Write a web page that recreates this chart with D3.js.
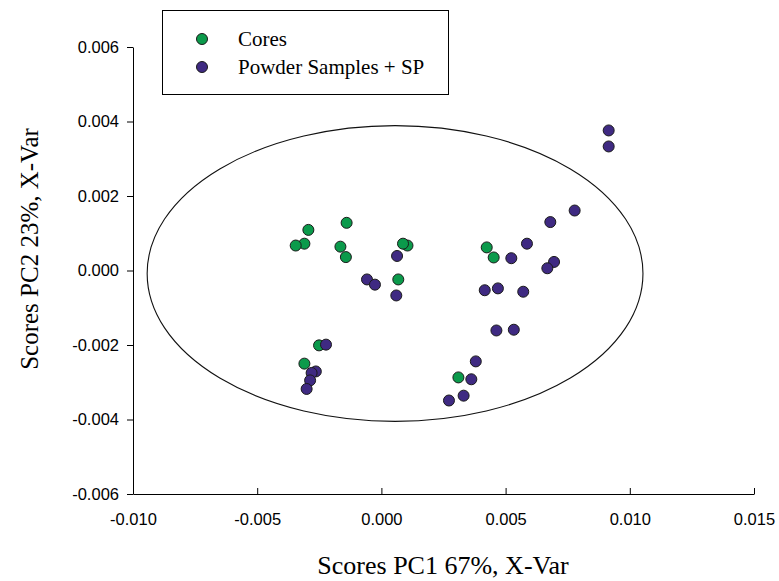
<!DOCTYPE html>
<html>
<head>
<meta charset="utf-8">
<script src="https://cdn.jsdelivr.net/npm/d3@7"></script>
<style>
  body { margin: 0; background: #fff; }
  .tick text { font-family: "Liberation Sans", Arial, sans-serif; font-size: 16.5px; fill: #000; }
  .domain, .tick line { stroke: #000; stroke-width: 1; }
</style>
</head>
<body>
<div class="chart"></div>
<script>
var width = 779,
    height = 581;

// PC1 / PC2 scores
var coresX = [0.00105, 0.00087, 0.00068, -0.00294, -0.00310, -0.00345, -0.00140, -0.00165, -0.00143,
              -0.00251, -0.00310, 0.00424, 0.00452, 0.00310];
var coresY = [0.00067, 0.00072, -0.00024, 0.00109, 0.00072, 0.00067, 0.00128, 0.00064, 0.00036,
              -0.00201, -0.00250, 0.00062, 0.00035, -0.00287];

var powderX = [0.00063, -0.00058, -0.00026, 0.00060, -0.00223, -0.00264, -0.00281, -0.00287, -0.00301,
               0.00680, 0.00586, 0.00523, 0.00695, 0.00668, 0.00416, 0.00469, 0.00571, 0.00463,
               0.00533, 0.00778, 0.00915, 0.00915, 0.00380, 0.00362, 0.00331, 0.00272];
var powderY = [0.00039, -0.00024, -0.00038, -0.00067, -0.00199, -0.00271, -0.00275, -0.00295, -0.00318,
               0.00130, 0.00072, 0.00033, 0.00023, 0.00006, -0.00053, -0.00048, -0.00057, -0.00161,
               -0.00159, 0.00161, 0.00376, 0.00333, -0.00244, -0.00292, -0.00336, -0.00349];

// confidence ellipse: centre and half axes
var ellipseC = [0.00055, -0.00008];
var ellipseR = [0.00998, 0.00397];

var xTicks = [-0.010, -0.005, 0.000, 0.005, 0.010, 0.015];
var yTicks = [-0.006, -0.004, -0.002, 0.000, 0.002, 0.004, 0.006];

var seriesNames = ["Cores", "Powder Samples + SP"];
var seriesColors = ["#0b9a4b", "#3f2a82"];

var x = d3.scaleLinear().domain([-0.010, 0.015]).range([133, 754]);
var y = d3.scaleLinear().domain([-0.006, 0.006]).range([494, 47]);

// plain hyphen instead of unicode minus
var fmt = function(d) { return d3.format(".3f")(d).replace("\u2212", "-"); };

var svg = d3.select(".chart").append("svg")
            .attr("width", width)
            .attr("height", height);

// axes
svg.append("g")
   .attr("transform", "translate(0," + y(-0.006) + ")")
   .call(d3.axisBottom(x).tickValues(xTicks).tickFormat(fmt)
           .tickSizeInner(-6).tickSizeOuter(0).tickPadding(19));

svg.append("g")
   .attr("transform", "translate(" + x(-0.010) + ",0)")
   .call(d3.axisLeft(y).tickValues(yTicks).tickFormat(fmt)
           .tickSizeInner(6).tickSizeOuter(0).tickPadding(8));

// ellipse
svg.append("ellipse")
   .attr("cx", x(ellipseC[0]))
   .attr("cy", y(ellipseC[1]))
   .attr("rx", x(ellipseR[0]) - x(0))
   .attr("ry", y(0) - y(ellipseR[1]))
   .style("fill", "none")
   .style("stroke", "#111")
   .style("stroke-width", 1.1);

function drawPoints(xs, ys, color) {
    svg.append("g").selectAll("circle")
       .data(xs.map(function(d, i) { return [d, ys[i]]; }))
       .enter().append("circle")
       .attr("cx", d => x(d[0]))
       .attr("cy", d => y(d[1]))
       .attr("r", 5.5)
       .style("fill", color)
       .style("stroke", "#1a1a1a")
       .style("stroke-width", 1);
}

drawPoints(coresX, coresY, seriesColors[0]);
drawPoints(powderX, powderY, seriesColors[1]);

// legend
var legend = svg.append("g");
legend.append("rect")
      .attr("x", 162.5).attr("y", 10.5)
      .attr("width", 286).attr("height", 84)
      .style("fill", "#fff")
      .style("stroke", "#000");

seriesNames.forEach(function(name, i) {
    legend.append("circle")
          .attr("cx", 202).attr("cy", 39 + i * 28)
          .attr("r", 5.5)
          .style("fill", seriesColors[i])
          .style("stroke", "#1a1a1a");
    legend.append("text")
          .attr("x", 238).attr("y", 46 + i * 28)
          .style("font-family", "'Liberation Serif', 'Times New Roman', serif")
          .style("font-size", "21px")
          .text(name);
});

// axis titles
svg.append("text")
   .attr("x", 443).attr("y", 574)
   .attr("text-anchor", "middle")
   .style("font-family", "'Liberation Serif', 'Times New Roman', serif")
   .style("font-size", "26px")
   .text("Scores PC1 67%, X-Var");

svg.append("text")
   .attr("transform", "translate(38,249) rotate(-90)")
   .attr("text-anchor", "middle")
   .style("font-family", "'Liberation Serif', 'Times New Roman', serif")
   .style("font-size", "25px")
   .text("Scores PC2 23%, X-Var");
</script>
</body>
</html>
